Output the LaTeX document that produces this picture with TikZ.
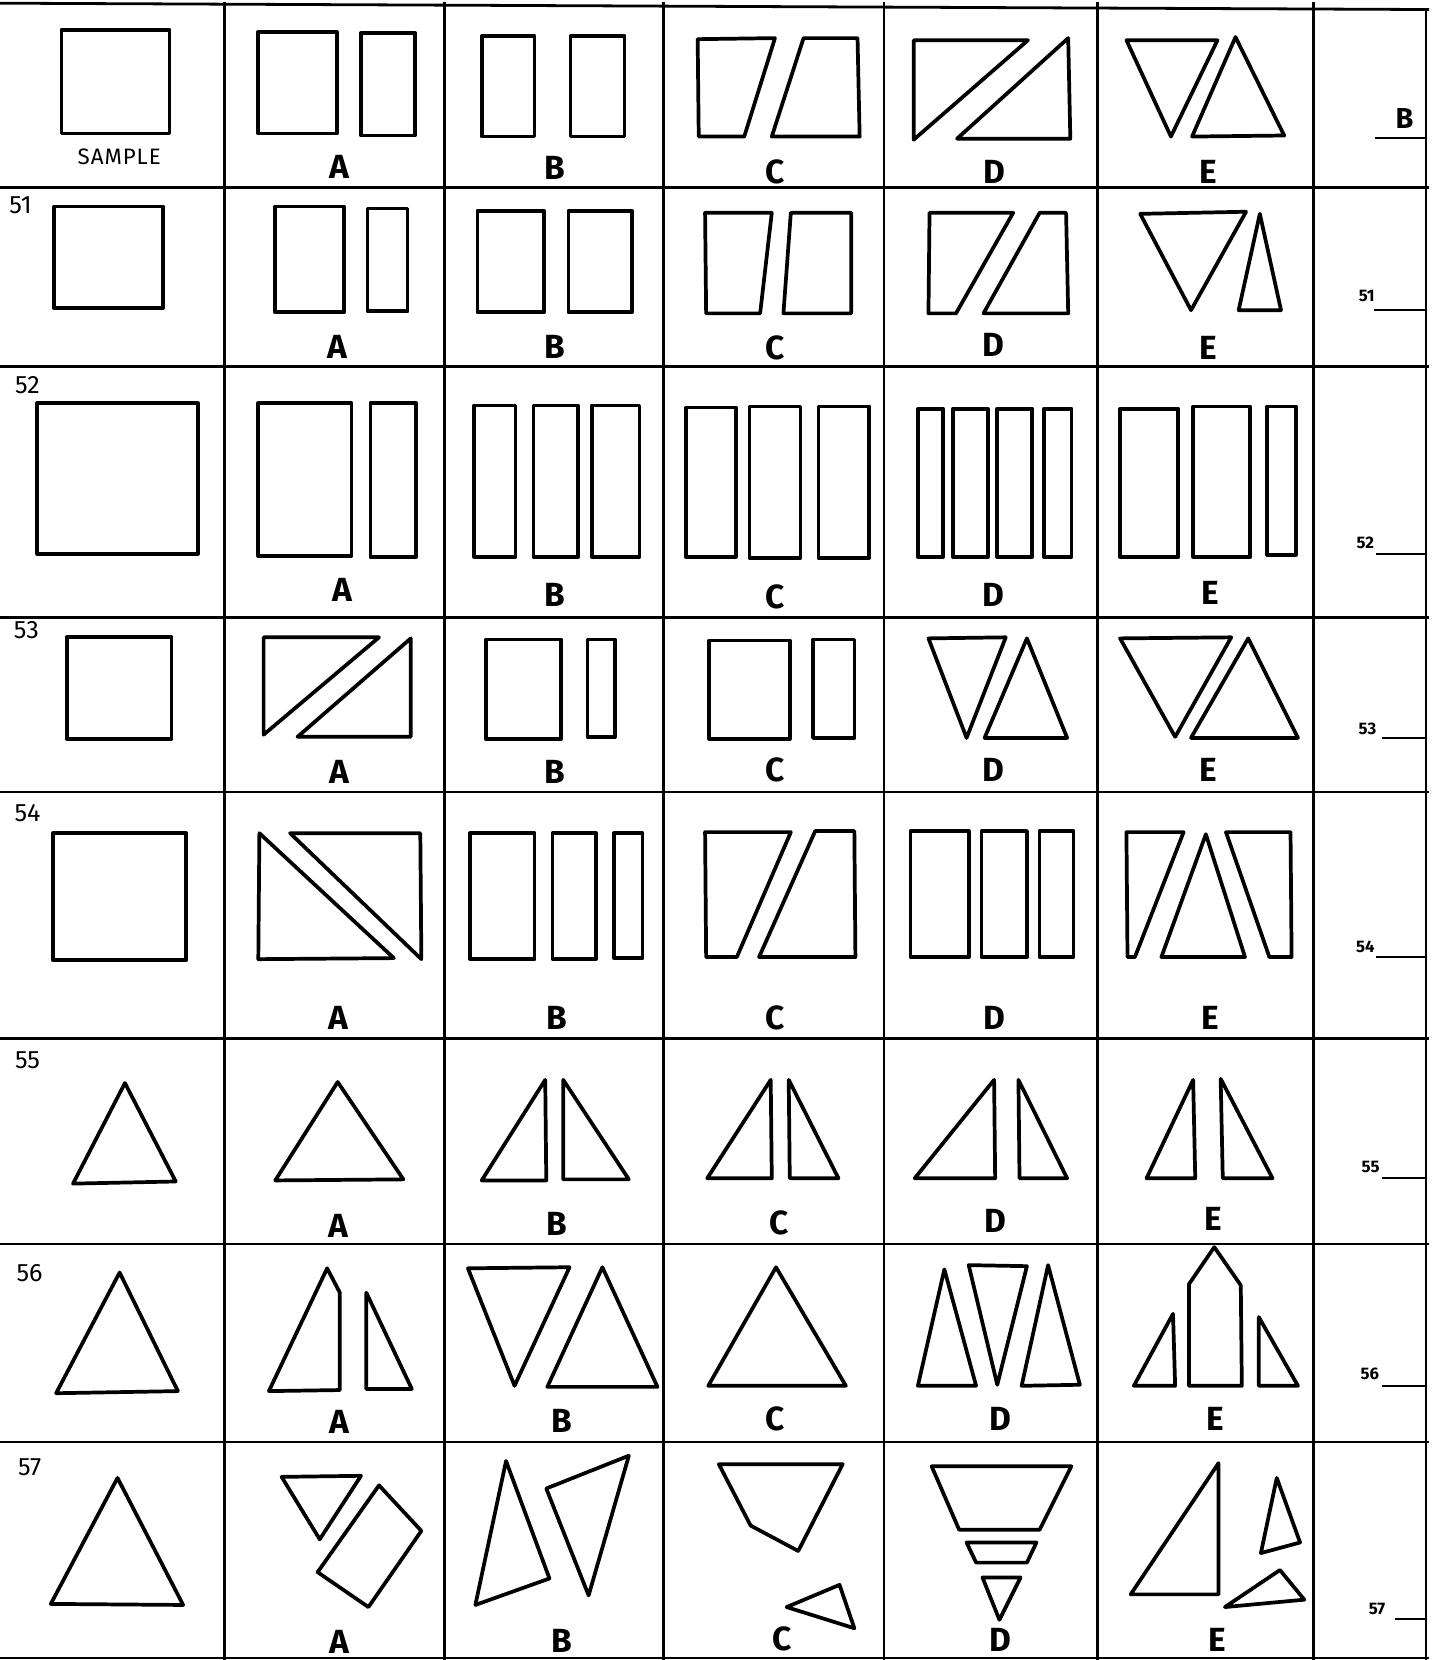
\documentclass[tikz,border=0pt]{standalone}
\usepackage{fontspec}
\newfontfamily\labfont{Fira Sans}
\begin{document}
\begin{tikzpicture}[x=0.02cm,y=-0.02cm,
  shp/.style={draw=black,line width=2pt,line join=round},
  gridline/.style={draw=black,line width=1.5pt},
  lab/.style={inner sep=0pt,font=\labfont\bfseries\fontsize{18}{18}\selectfont},
  rnum/.style={inner sep=0pt,font=\labfont\fontsize{13.5}{14}\selectfont},
  ans/.style={inner sep=0pt,font=\labfont\bfseries\fontsize{9}{9}\selectfont},
  samp/.style={inner sep=0pt,font=\labfont\fontsize{12}{12}\selectfont}]
\useasboundingbox[fill=white] (0,0) rectangle (1355,1568);
% ---------------- grid ----------------
\draw[gridline] (0,3) -- (1350,9);
\foreach \yy in {177,346,583,748,981,1175,1362,1566}
  \draw[gridline] (0,\yy) -- (1350,\yy);
\foreach \xx in {212,420,627,835,1037,1241}
  \draw[gridline] (\xx,2) -- (\xx,1568);
\draw[draw=black,line width=1pt] (1347,8) -- (1347,1568);
% ---------------- row 0 (sample) ----------------
\draw[shp] (58,28) rectangle (160,126);
\node[samp] (t0s) at (112.6,148) {S\kern0.5pt A\kern0.5pt M\kern0.5pt P\kern0.5pt L\kern0.5pt E};
\draw[shp] (244,30) rectangle (318,126);
\draw[shp] (341,31) rectangle (392,128);
\draw[shp] (455,34) rectangle (505,129);
\draw[shp] (539,34) rectangle (590,129);
\draw[shp] (659,37) -- (732,36) -- (703,129) -- (660,129) -- cycle;
\draw[shp] (759,36) -- (810,36) -- (812,129) -- (729,129) -- cycle;
\draw[shp] (863,38) -- (971,38) -- (863,132) -- cycle;
\draw[shp] (1009,36) -- (1011,131) -- (904,131) -- cycle;
\draw[shp] (1064,38) -- (1150,38) -- (1106,129) -- cycle;
\draw[shp] (1167,35) -- (1126,129) -- (1213,128) -- cycle;
\node[lab] (t0a) at (320.7,157.5) {A};
\node[lab] (t0b) at (524.5,159) {B};
\node[lab] (t0c) at (732,162) {C};
\node[lab] (t0d) at (939,162) {D};
\node[lab] (t0e) at (1141.5,162) {E};
\node[inner sep=0pt,font=\labfont\bfseries\fontsize{15.5}{16}\selectfont] (t0ans) at (1326.7,111.6) {B};
\coordinate (u0a) at (1299,130); \coordinate (u0b) at (1348,130);
\draw[line width=1.2pt] (u0a) -- (u0b);
% ---------------- row 51 ----------------
\node[rnum] (n51) at (19.4,193.7) {51};
\draw[shp] (51,195) rectangle (154,291);
\draw[shp] (260,195) rectangle (325,295);
\draw[shp] (347,197) rectangle (385,294);
\draw[shp] (451,199) rectangle (514,295);
\draw[shp] (537,199) rectangle (597,295);
\draw[shp] (666,201) -- (729,201) -- (718,296) -- (667,296) -- cycle;
\draw[shp] (747,201) -- (804,201) -- (804,296) -- (740,296) -- cycle;
\draw[shp] (878,201) -- (957,201) -- (903,296) -- (877,296) -- cycle;
\draw[shp] (982,201) -- (1007,201) -- (1009,296) -- (929,296) -- cycle;
\draw[shp] (1077,202) -- (1177,200) -- (1125,293) -- cycle;
\draw[shp] (1190,202) -- (1170,293) -- (1210,293) -- cycle;
\node[lab] (t1a) at (318.6,327.6) {A};
\node[lab] (t1b) at (524.5,327.6) {B};
\node[lab] (t1c) at (732,329) {C};
\node[lab] (t1d) at (938,326) {D};
\node[lab] (t1e) at (1141.5,329) {E};
\node[ans] (a51) at (1291,280) {51};
\coordinate (u1a) at (1298,293); \coordinate (u1b) at (1348,293);
\draw[line width=1.2pt] (u1a) -- (u1b);
% ---------------- row 52 ----------------
\node[rnum] (n52) at (26,363.8) {52};
\draw[shp] (35,381) rectangle (187,523);
\draw[shp] (244,381) rectangle (332,525);
\draw[shp] (350,381) rectangle (393,526);
\draw[shp] (448,383) rectangle (487,526);
\draw[shp] (504,383) rectangle (546,526);
\draw[shp] (559,383) rectangle (604,526);
\draw[shp] (648,385) rectangle (695,526);
\draw[shp] (708,384) rectangle (756,527);
\draw[shp] (773,384) rectangle (821,527);
\draw[shp] (867,386) rectangle (891,526);
\draw[shp] (900,386) rectangle (933,526);
\draw[shp] (942,386) rectangle (975,526);
\draw[shp] (986,386) rectangle (1012,526);
\draw[shp] (1058,386) rectangle (1113,526);
\draw[shp] (1127,384) rectangle (1181,526);
\draw[shp] (1197,384) rectangle (1224,524);
\node[lab] (t2a) at (323,557.5) {A};
\node[lab] (t2b) at (524.5,562) {B};
\node[lab] (t2c) at (732,563.8) {C};
\node[lab] (t2d) at (938,562) {D};
\node[lab] (t2e) at (1143.5,560) {E};
\node[ans] (a52) at (1289.6,513) {52};
\coordinate (u2a) at (1300,523); \coordinate (u2b) at (1348,523);
\draw[line width=1.2pt] (u2a) -- (u2b);
% ---------------- row 53 ----------------
\node[rnum] (n53) at (25,595.3) {53};
\draw[shp] (63,602) rectangle (162,698);
\draw[shp] (249,602) -- (358,602) -- (249,694) -- cycle;
\draw[shp] (388,603) -- (388,696) -- (281,696) -- cycle;
\draw[shp] (459,604) rectangle (530,698);
\draw[shp] (555,604) rectangle (581,696);
\draw[shp] (670,605) rectangle (746,698);
\draw[shp] (768,604) rectangle (807,697);
\draw[shp] (877,603) -- (950,602) -- (913,697) -- cycle;
\draw[shp] (970,603) -- (930,697) -- (1008,697) -- cycle;
\draw[shp] (1058,603) -- (1163,602) -- (1110,696) -- cycle;
\draw[shp] (1179,603) -- (1125,697) -- (1226,697) -- cycle;
\node[lab] (t3a) at (320.7,729) {A};
\node[lab] (t3b) at (524.5,729) {B};
\node[lab] (t3c) at (732,727.6) {C};
\node[lab] (t3d) at (938,727.6) {D};
\node[lab] (t3e) at (1141.5,727.6) {E};
\node[ans] (a53) at (1291.7,688) {53};
\coordinate (u3a) at (1305,697); \coordinate (u3b) at (1348,697);
\draw[line width=1.2pt] (u3a) -- (u3b);
% ---------------- row 54 ----------------
\node[rnum] (n54) at (26,768.5) {54};
\draw[shp] (50,787) rectangle (176,907);
\draw[shp] (245,787) -- (244,906) -- (372,905) -- cycle;
\draw[shp] (274,787) -- (397,787) -- (398,906) -- cycle;
\draw[shp] (444,787) rectangle (505,906);
\draw[shp] (522,787) rectangle (563,906);
\draw[shp] (580,787) rectangle (607,905);
\draw[shp] (666,786) -- (747,786) -- (696,904) -- (667,904) -- cycle;
\draw[shp] (770,785) -- (807,785) -- (808,904) -- (717,904) -- cycle;
\draw[shp] (860,785) rectangle (915,904);
\draw[shp] (927,785) rectangle (970,904);
\draw[shp] (982,785) rectangle (1014,904);
\draw[shp] (1064,786) -- (1118,786) -- (1072,904) -- (1065,904) -- cycle;
\draw[shp] (1139,788) -- (1097,904) -- (1176,904) -- cycle;
\draw[shp] (1158,786) -- (1219,786) -- (1220,904) -- (1199,904) -- cycle;
\node[lab] (t4a) at (319.5,961.6) {A};
\node[lab] (t4b) at (525.8,961.6) {B};
\node[lab] (t4c) at (732,961.6) {C};
\node[lab] (t4d) at (939,961.6) {D};
\node[lab] (t4e) at (1143.5,961.6) {E};
\node[ans] (a54) at (1289.6,894.5) {54};
\coordinate (u4a) at (1300,904); \coordinate (u4b) at (1348,904);
\draw[line width=1.2pt] (u4a) -- (u4b);
% ---------------- row 55 ----------------
\node[rnum] (n55) at (26,1001.6) {55};
\draw[shp] (118,1023) -- (69,1118) -- (166,1116) -- cycle;
\draw[shp] (319,1022) -- (260,1115) -- (381,1114) -- cycle;
\draw[shp] (515,1020) -- (455,1115) -- (516,1115) -- cycle;
\draw[shp] (532,1020) -- (532,1114) -- (594,1114) -- cycle;
\draw[shp] (728,1020) -- (668,1113) -- (729,1113) -- cycle;
\draw[shp] (745,1020) -- (746,1113) -- (792,1113) -- cycle;
\draw[shp] (939,1020) -- (864,1113) -- (940,1113) -- cycle;
\draw[shp] (962,1020) -- (963,1113) -- (1008,1113) -- cycle;
\draw[shp] (1127,1020) -- (1083,1113) -- (1129,1113) -- cycle;
\draw[shp] (1153,1019) -- (1155,1113) -- (1202,1113) -- cycle;
\node[lab] (t5a) at (319.5,1158) {A};
\node[lab] (t5b) at (526,1156.5) {B};
\node[lab] (t5c) at (735.8,1155) {C};
\node[lab] (t5d) at (940,1152.8) {D};
\node[lab] (t5e) at (1145.8,1151) {E};
\node[ans] (a55) at (1294.6,1102.4) {55};
\coordinate (u5a) at (1305,1113); \coordinate (u5b) at (1348,1113);
\draw[line width=1.2pt] (u5a) -- (u5b);
% ---------------- row 56 ----------------
\node[rnum] (n56) at (28,1202.6) {56};
\draw[shp] (113,1202) -- (53,1316) -- (168,1314) -- cycle;
\draw[shp] (309,1198) -- (321,1221) -- (321,1313) -- (254,1314) -- cycle;
\draw[shp] (346,1221) -- (346,1312) -- (389,1312) -- cycle;
\draw[shp] (442,1198) -- (538,1197) -- (486,1309) -- cycle;
\draw[shp] (569,1197) -- (517,1310) -- (621,1310) -- cycle;
\draw[shp] (733,1197) -- (669,1309) -- (799,1309) -- cycle;
\draw[shp] (892,1199) -- (867,1309) -- (922,1309) -- cycle;
\draw[shp] (915,1195) -- (970,1196) -- (942,1308) -- cycle;
\draw[shp] (990,1195) -- (965,1309) -- (1020,1308) -- cycle;
\draw[shp] (1108,1241) -- (1071,1309) -- (1110,1309) -- cycle;
\draw[shp] (1147,1178) -- (1172,1214) -- (1173,1309) -- (1123,1309) -- (1123,1213) -- cycle;
\draw[shp] (1189,1244) -- (1189,1309) -- (1226,1309) -- cycle;
\node[lab] (t6a) at (320.7,1343.4) {A};
\node[lab] (t6b) at (531,1341.8) {B};
\node[lab] (t6c) at (732,1340) {C};
\node[lab] (t6d) at (944.5,1340) {D};
\node[lab] (t6e) at (1148,1340) {E};
\node[ans] (a56) at (1294,1297.7) {56};
\coordinate (u6a) at (1305,1309); \coordinate (u6b) at (1348,1309);
\draw[line width=1.2pt] (u6a) -- (u6b);
% ---------------- row 57 ----------------
\node[rnum] (n57) at (28,1386) {57};
\draw[shp] (111,1396) -- (48,1515) -- (173,1516) -- cycle;
\draw[shp] (266,1395) -- (341,1394) -- (302,1454) -- cycle;
\draw[shp] (358,1403) -- (398,1446) -- (348,1518) -- (300,1485) -- cycle;
\draw[shp] (478,1380) -- (449,1516) -- (519,1491) -- cycle;
\draw[shp] (594,1375) -- (516,1406) -- (556,1507) -- cycle;
\draw[shp] (679,1383) -- (796,1383) -- (754,1465) -- (709,1441) -- cycle;
\draw[shp] (793,1497) -- (743,1518) -- (807,1538) -- cycle;
\draw[shp] (880,1385) -- (1012,1385) -- (982,1445) -- (906,1445) -- cycle;
\draw[shp] (913,1457) -- (979,1457) -- (970,1476) -- (922,1476) -- cycle;
\draw[shp] (928,1490) -- (964,1490) -- (944,1530) -- cycle;
\draw[shp] (1151,1382) -- (1068,1506) -- (1151,1506) -- cycle;
\draw[shp] (1206,1396) -- (1191,1467) -- (1228,1457) -- cycle;
\draw[shp] (1209,1483) -- (1157,1518) -- (1232,1511) -- cycle;
\node[lab] (t7a) at (320.7,1551) {A};
\node[lab] (t7b) at (531,1549.7) {B};
\node[lab] (t7c) at (739,1548) {C};
\node[lab] (t7d) at (944.5,1549) {D};
\node[lab] (t7e) at (1150,1549) {E};
\node[ans] (a57) at (1300.7,1519.6) {57};
\coordinate (u7a) at (1318,1529); \coordinate (u7b) at (1348,1529);
\draw[line width=1.2pt] (u7a) -- (u7b);
\end{tikzpicture}
\end{document}
